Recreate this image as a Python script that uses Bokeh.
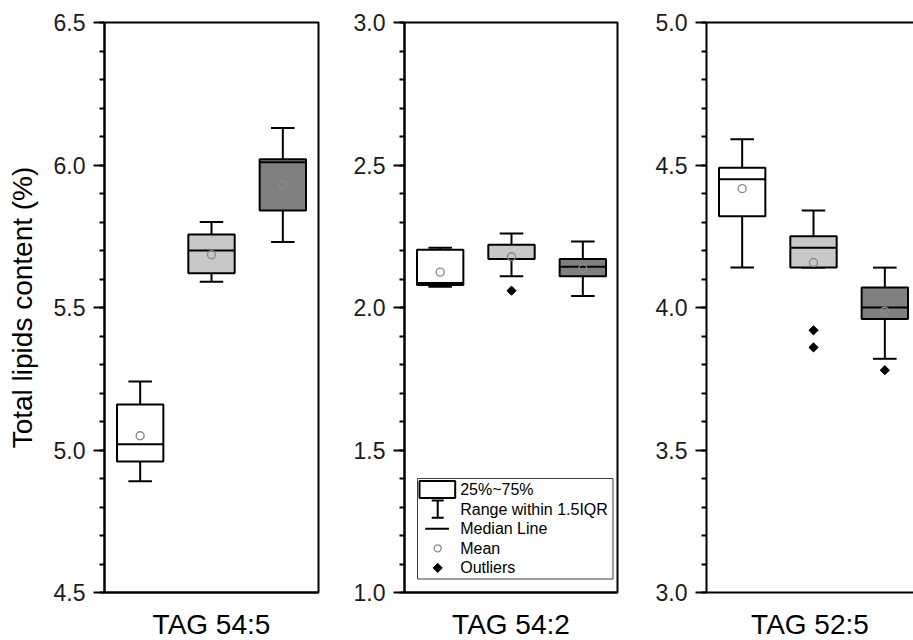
import math
from bokeh.plotting import figure
from bokeh.layouts import row
from bokeh.models import (Range1d, SingleIntervalTicker, PrintfTickFormatter, LinearAxis,
                          FixedTicker, ColumnDataSource)
from bokeh.core.properties import value
from bokeh.embed import file_html
from bokeh.resources import INLINE

# ---------------- data ----------------
PANEL_TITLES = ["TAG 54:5", "TAG 54:2", "TAG 52:5"]
Y_LIMITS = [(4.5, 6.5), (1.0, 3.0), (3.0, 5.0)]
Y_TITLE = "Total lipids content (%)"
GROUP_FILLS = ["#FFFFFF", "#C8C8C8", "#808080"]

# TAG 54:5 (three groups)
t545_low = [4.89, 5.59, 5.73]
t545_q1 = [4.96, 5.62, 5.84]
t545_med = [5.02, 5.70, 6.01]
t545_q3 = [5.16, 5.756, 6.02]
t545_up = [5.24, 5.80, 6.13]
t545_mean = [5.05, 5.685, 5.93]
t545_out_group = []
t545_out_val = []

# TAG 54:2
t542_low = [2.073, 2.11, 2.04]
t542_q1 = [2.079, 2.17, 2.11]
t542_med = [2.086, 2.17, 2.143]
t542_q3 = [2.203, 2.22, 2.17]
t542_up = [2.21, 2.26, 2.232]
t542_mean = [2.124, 2.178, 2.137]
t542_out_group = [1]
t542_out_val = [2.059]

# TAG 52:5
t525_low = [4.14, 4.14, 3.82]
t525_q1 = [4.32, 4.14, 3.96]
t525_med = [4.45, 4.21, 4.00]
t525_q3 = [4.49, 4.25, 4.07]
t525_up = [4.59, 4.34, 4.14]
t525_mean = [4.417, 4.158, 3.987]
t525_out_group = [1, 1, 2]
t525_out_val = [3.92, 3.86, 3.78]

LEGEND_LABELS = ["25%~75%", "Range within 1.5IQR", "Median Line", "Mean", "Outliers"]

PANELS = [
    (t545_low, t545_q1, t545_med, t545_q3, t545_up, t545_mean, t545_out_group, t545_out_val),
    (t542_low, t542_q1, t542_med, t542_q3, t542_up, t542_mean, t542_out_group, t542_out_val),
    (t525_low, t525_q1, t525_med, t525_q3, t525_up, t525_mean, t525_out_group, t525_out_val),
]

# ---------------- layout / style ----------------
FONT = "Liberation Sans"
FRAME_H = 570
FRAME_WIDTHS = [214, 213, 207]
BORDER_LEFT = [104, 82, 85]
BORDER_RIGHT = [4, 4, 0]
BORDER_TOP = 22
BORDER_BOTTOM = 48
PX_PER_X = 214 / 3.0
PX_PER_Y = FRAME_H / 2.0
BOX_W = 0.65
CAP_W = 0.33
LW = 2
MEAN_COLOR = "#8a8a8a"


def build_legend(p, yr):
    # legend laid out in frame pixels, converted to data through the panel scale
    def dx(px):
        return px / PX_PER_X

    def dy(py):
        return yr[1] - py / PX_PER_Y

    left, top, right, bottom = 13, 456, 208.5, 556.5
    p.quad(left=[dx(left)], right=[dx(right)], top=[dy(top)], bottom=[dy(bottom)],
           fill_color="white", line_color="#404040", line_width=1)
    row_y = [top + 11 + 19.6 * i for i in range(len(LEGEND_LABELS))]
    icon_x = 33.2
    # box icon
    p.quad(left=[dx(15)], right=[dx(50.7)], top=[dy(row_y[0] - 8.6)], bottom=[dy(row_y[0] + 8.6)],
           fill_color="white", line_color="black", line_width=LW)
    # whisker icon
    wy0, wy1 = row_y[1] - 8.7, row_y[1] + 8.7
    p.segment(x0=[dx(icon_x)], x1=[dx(icon_x)], y0=[dy(wy0)], y1=[dy(wy1)], line_color="black", line_width=LW)
    p.segment(x0=[dx(icon_x - 6), dx(icon_x - 6)], x1=[dx(icon_x + 6), dx(icon_x + 6)],
              y0=[dy(wy0), dy(wy1)], y1=[dy(wy0), dy(wy1)], line_color="black", line_width=LW)
    # median icon
    p.segment(x0=[dx(20.7)], x1=[dx(44.5)], y0=[dy(row_y[2])], y1=[dy(row_y[2])],
              line_color="black", line_width=LW)
    # mean icon
    p.scatter([dx(icon_x)], [dy(row_y[3])], marker="circle", size=7, fill_color=None,
              line_color=MEAN_COLOR, line_width=1.3)
    # outlier icon
    p.scatter([dx(icon_x)], [dy(row_y[4])], marker="square", angle=math.pi / 4, size=6.5,
              fill_color="black", line_color="black")
    p.text(x=[dx(55.7)] * len(LEGEND_LABELS), y=[dy(v) for v in row_y], text=LEGEND_LABELS,
           text_font=value(FONT), text_font_size="16px", text_baseline="middle",
           text_align="left", text_color="black")


figs = []
for k in range(3):
    low, q1, med, q3, up, mean, og, ov = PANELS[k]
    yr = Y_LIMITS[k]
    x_end = FRAME_WIDTHS[k] / PX_PER_X
    p = figure(frame_width=FRAME_WIDTHS[k], frame_height=FRAME_H,
               x_range=Range1d(0, x_end), y_range=Range1d(yr[0], yr[1]),
               output_backend="svg", toolbar_location=None,
               min_border_left=BORDER_LEFT[k], min_border_right=BORDER_RIGHT[k],
               min_border_top=BORDER_TOP, min_border_bottom=BORDER_BOTTOM,
               x_axis_location=None, y_axis_location="left",
               background_fill_color="white", border_fill_color="white")
    p.grid.grid_line_color = None

    ax = p.yaxis[0]
    ax.ticker = SingleIntervalTicker(interval=0.5, num_minor_ticks=5)
    ax.formatter = PrintfTickFormatter(format="%.1f")
    ax.major_tick_in = 0
    ax.major_tick_out = 11
    ax.minor_tick_in = 0
    ax.minor_tick_out = 5
    ax.major_tick_line_width = 2
    ax.minor_tick_line_width = 2
    ax.axis_line_width = 2
    ax.axis_line_color = "black"
    ax.major_tick_line_color = "black"
    ax.minor_tick_line_color = "black"
    ax.major_label_text_font = FONT
    ax.major_label_text_font_size = "23px"
    ax.major_label_text_color = "#1c1c1c"
    ax.major_label_standoff = 8
    if k == 0:
        ax.axis_label = Y_TITLE
        ax.axis_label_text_font = FONT
        ax.axis_label_text_font_size = "28px"
        ax.axis_label_text_font_style = "normal"
        ax.axis_label_text_color = "black"
        ax.axis_label_standoff = 13

    # bottom axis: frame line + panel title
    bx = LinearAxis(ticker=FixedTicker(ticks=[]), axis_line_width=2, axis_line_color="black",
                    major_tick_line_color=None, minor_tick_line_color=None,
                    major_label_text_font_size="0px", major_label_standoff=0,
                    major_tick_out=0, major_tick_in=0,
                    axis_label=PANEL_TITLES[k], axis_label_text_font=FONT,
                    axis_label_text_font_size="28px", axis_label_text_font_style="normal",
                    axis_label_text_color="black", axis_label_standoff=16)
    p.add_layout(bx, "below")

    if k < 2:
        p.outline_line_color = "black"
        p.outline_line_width = 2
        p.outline_line_alpha = 1.0
    else:
        p.outline_line_color = None
        top_ax = LinearAxis(ticker=FixedTicker(ticks=[]), axis_line_width=2, axis_line_color="black",
                            major_tick_line_color=None, minor_tick_line_color=None,
                            major_label_text_font_size="0px", major_label_standoff=0,
                            major_tick_out=0, major_tick_in=0)
        p.add_layout(top_ax, "above")

    xs = [i + 0.5 for i in range(len(q1))]
    src = ColumnDataSource(dict(
        x=xs, low=low, q1=q1, med=med, q3=q3, up=up, mean=mean, fill=GROUP_FILLS,
        bl=[x - BOX_W / 2 for x in xs], br=[x + BOX_W / 2 for x in xs],
        cl=[x - CAP_W / 2 for x in xs], cr=[x + CAP_W / 2 for x in xs],
    ))
    p.segment(x0="x", y0="q3", x1="x", y1="up", source=src, line_color="black", line_width=LW)
    p.segment(x0="x", y0="low", x1="x", y1="q1", source=src, line_color="black", line_width=LW)
    p.segment(x0="cl", y0="up", x1="cr", y1="up", source=src, line_color="black", line_width=LW)
    p.segment(x0="cl", y0="low", x1="cr", y1="low", source=src, line_color="black", line_width=LW)
    p.vbar(x="x", width=BOX_W, bottom="q1", top="q3", source=src, fill_color="fill",
           line_color="black", line_width=LW)
    p.segment(x0="bl", y0="med", x1="br", y1="med", source=src, line_color="black", line_width=LW)
    p.scatter(x="x", y="mean", source=src, marker="circle", size=8, fill_color=None,
              line_color=MEAN_COLOR, line_width=1.4)
    if og:
        p.scatter(x=[g + 0.5 for g in og], y=ov, marker="square", angle=math.pi / 4, size=6.5,
                  fill_color="black", line_color="black")

    if k == 1:
        build_legend(p, yr)
    figs.append(p)

layout = row(*figs, spacing=0)
open("out.html", "w").write(file_html(layout, INLINE))
